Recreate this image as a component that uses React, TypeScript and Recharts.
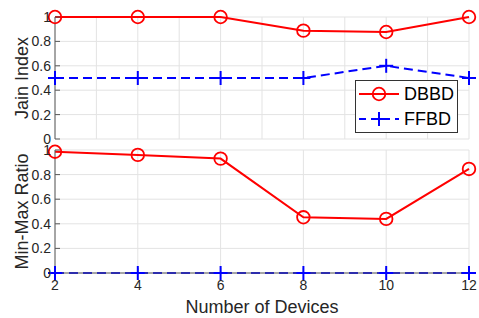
import React from 'react';
import { LineChart, Line, XAxis, YAxis, CartesianGrid, Legend, Label } from 'recharts';

const devices = [2, 4, 6, 8, 10, 12];
const jainDBBD = [1, 1, 1, 0.888, 0.877, 1];
const jainFFBD = [0.5, 0.5, 0.5, 0.5, 0.6, 0.5];
const minMaxDBBD = [0.986, 0.96, 0.93, 0.453, 0.44, 0.846];
const minMaxFFBD = [0, 0, 0, 0, 0, 0];

const topXTicks = [2, 3, 4, 5, 6, 7, 8, 9, 10, 11, 12];
const bottomXTicks = [2, 4, 6, 8, 10, 12];
const yTicks = [0, 0.2, 0.4, 0.6, 0.8, 1];

const jainData = devices.map((d, i) => ({ d, DBBD: jainDBBD[i], FFBD: jainFFBD[i] }));
const minMaxData = devices.map((d, i) => ({ d, DBBD: minMaxDBBD[i], FFBD: minMaxFFBD[i] }));

const FONT = '"Liberation Sans", Arial, sans-serif';
const TEXT = '#262626';
const AXIS = '#5a5a5a';
const RED = '#ff0000';
const BLUE = '#0000ff';

const CircleDot = (props: any) => {
  const { cx, cy, index } = props;
  if (cx == null || cy == null) return <g key={index} />;
  return <circle key={index} cx={cx} cy={cy} r={6.3} fill="none" stroke={RED} strokeWidth={1.8} />;
};

const PlusDot = (props: any) => {
  const { cx, cy, index } = props;
  if (cx == null || cy == null) return <g key={index} />;
  const s = 7;
  return (
    <g key={index}>
      <line x1={cx - s} x2={cx + s} y1={cy} y2={cy} stroke={BLUE} strokeWidth={2} />
      <line x1={cx} x2={cx} y1={cy - s} y2={cy + s} stroke={BLUE} strokeWidth={2} />
    </g>
  );
};

const tickStyle = { fontSize: 14, fill: TEXT, fontFamily: FONT };

const LegendBox = () => (
  <div
    style={{
      width: 103,
      height: 53,
      boxSizing: 'border-box',
      border: '1px solid #333',
      background: '#fff',
      fontFamily: FONT,
      fontSize: 18,
      color: '#000',
    }}
  >
    <div style={{ display: 'flex', alignItems: 'center', height: 26 }}>
      <svg width={46} height={20}>
        <line x1={3} x2={43} y1={10} y2={10} stroke={RED} strokeWidth={2} />
        <circle cx={23} cy={10} r={6.3} fill="none" stroke={RED} strokeWidth={1.8} />
      </svg>
      <span style={{ marginLeft: 2 }}>DBBD</span>
    </div>
    <div style={{ display: 'flex', alignItems: 'center', height: 24 }}>
      <svg width={46} height={20}>
        <line x1={3} x2={43} y1={10} y2={10} stroke={BLUE} strokeWidth={2} strokeDasharray="7 5" />
        <line x1={16} x2={30} y1={10} y2={10} stroke={BLUE} strokeWidth={2} />
        <line x1={23} x2={23} y1={3} y2={17} stroke={BLUE} strokeWidth={2} />
      </svg>
      <span style={{ marginLeft: 2 }}>FFBD</span>
    </div>
  </div>
);

export default function App() {
  return (
    <div style={{ position: 'absolute', left: 0, top: 0, width: 479, height: 318, background: '#fff' }}>
      <div style={{ position: 'absolute', left: 0, top: 0 }}>
        <LineChart width={479} height={150} data={jainData} margin={{ top: 17, right: 10, bottom: 11, left: 0 }}>
          <CartesianGrid stroke="#e3e3e3" strokeWidth={1} />
          <XAxis
            dataKey="d"
            type="number"
            domain={[2, 12]}
            ticks={topXTicks}
            height={0}
            tickSize={-5}
            tickFormatter={() => ''}
            stroke={AXIS}
            tickLine={{ stroke: AXIS }}
          />
          <XAxis
            xAxisId="top"
            orientation="top"
            dataKey="d"
            type="number"
            domain={[2, 12]}
            ticks={topXTicks}
            height={0}
            tickSize={-5}
            tickFormatter={() => ''}
            stroke={AXIS}
          />
          <YAxis
            type="number"
            domain={[0, 1]}
            ticks={yTicks}
            width={55}
            tickSize={-5}
            tickMargin={9}
            tick={tickStyle}
            stroke={AXIS}
          >
            <Label
              value="Jain Index"
              angle={-90}
              position="center"
              dx={-6}
              style={{ fontSize: 18, fill: TEXT, fontFamily: FONT }}
            />
          </YAxis>
          <YAxis
            yAxisId="r"
            orientation="right"
            type="number"
            domain={[0, 1]}
            ticks={yTicks}
            width={0}
            tickSize={-5}
            tickFormatter={() => ''}
            stroke={AXIS}
          />
          <Legend
            layout="vertical"
            align="center"
            verticalAlign="middle"
            wrapperStyle={{ position: 'absolute', left: 355, top: 80, width: 103, height: 53 }}
            content={() => <LegendBox />}
          />
          <Line
            dataKey="DBBD"
            stroke={RED}
            strokeWidth={2}
            dot={CircleDot}
            activeDot={false}
            isAnimationActive={false}
          />
          <Line
            dataKey="FFBD"
            stroke={BLUE}
            strokeWidth={2}
            strokeDasharray="9 5"
            dot={PlusDot}
            activeDot={false}
            isAnimationActive={false}
          />
        </LineChart>
      </div>
      <div style={{ position: 'absolute', left: 0, top: 140 }}>
        <LineChart width={479} height={178} data={minMaxData} margin={{ top: 10, right: 10, bottom: 0, left: 0 }}>
          <CartesianGrid stroke="#e3e3e3" strokeWidth={1} />
          <XAxis
            dataKey="d"
            type="number"
            domain={[2, 12]}
            ticks={bottomXTicks}
            height={45}
            tickSize={-5}
            tickMargin={12}
            tick={tickStyle}
            stroke={AXIS}
          >
            <Label
              value="Number of Devices"
              position="insideBottom"
              offset={5}
              style={{ fontSize: 18, fill: TEXT, fontFamily: FONT }}
            />
          </XAxis>
          <XAxis
            xAxisId="top"
            orientation="top"
            dataKey="d"
            type="number"
            domain={[2, 12]}
            ticks={bottomXTicks}
            height={0}
            tickSize={-5}
            tickFormatter={() => ''}
            stroke={AXIS}
          />
          <YAxis
            type="number"
            domain={[0, 1]}
            ticks={yTicks}
            width={55}
            tickSize={-5}
            tickMargin={9}
            tick={tickStyle}
            stroke={AXIS}
          >
            <Label
              value="Min-Max Ratio"
              angle={-90}
              position="center"
              dx={-6}
              style={{ fontSize: 18, fill: TEXT, fontFamily: FONT }}
            />
          </YAxis>
          <YAxis
            yAxisId="r"
            orientation="right"
            type="number"
            domain={[0, 1]}
            ticks={yTicks}
            width={0}
            tickSize={-5}
            tickFormatter={() => ''}
            stroke={AXIS}
          />
          <Line
            dataKey="DBBD"
            stroke={RED}
            strokeWidth={2}
            dot={CircleDot}
            activeDot={false}
            isAnimationActive={false}
          />
          <Line
            dataKey="FFBD"
            stroke={BLUE}
            strokeWidth={2}
            strokeDasharray="9 5"
            dot={PlusDot}
            activeDot={false}
            isAnimationActive={false}
          />
        </LineChart>
      </div>
    </div>
  );
}
